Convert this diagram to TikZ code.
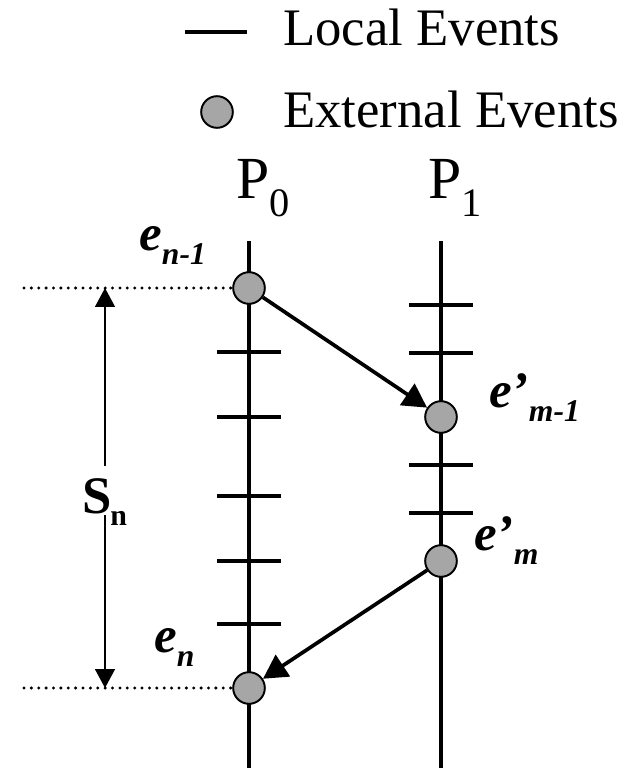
\documentclass[tikz,border=0pt]{standalone}
\usepackage{fontspec}
\setmainfont{Liberation Serif}
\usetikzlibrary{arrows.meta, positioning}
\definecolor{evgray}{RGB}{166,166,166}
\newcommand{\evlab}[2]{\textbf{\textit{#1}}\raisebox{-8.5pt}{\fontsize{18}{18}\selectfont\textbf{\textit{#2}}}}

\begin{document}
\begin{tikzpicture}[
    x=0.02cm, y=-0.02cm,
    >={Triangle[length=13.6pt, width=14.5pt]},
    proc/.style={line width=2.3pt},
    tickmark/.style={line width=2.3pt},
    event/.style={circle, draw, line width=1.1pt, fill=evgray, minimum size=18pt, inner sep=0pt},
    msg/.style={->, line width=2.1pt},
    dotline/.style={line width=1.9pt, line cap=round, dash pattern=on 0pt off 4.2pt},
    span/.style={{Triangle[length=10.8pt, width=11.3pt]}-{Triangle[length=10.8pt, width=11.3pt]}, line width=1.1pt},
    legtext/.style={font=\fontsize{30}{30}\selectfont, anchor=base west, inner sep=0pt},
    evtext/.style={font=\fontsize{29}{29}\selectfont, anchor=base west, inner sep=0pt},
]
\useasboundingbox (0,0) rectangle (630,768);
% legend
\draw[tickmark] (185,32) -- (247,32);
\node[legtext] (leglocal) at (283,45) {Local Events};
\node[event] (legext) at (217,112) {};
\node[legtext] (legexternal) at (283,127) {External Events};
% process names
\node[anchor=base west, inner sep=0pt, font=\fontsize{34}{34}\selectfont] (p0) at (236,198)
   {P\raisebox{-10.5pt}{\fontsize{23}{23}\selectfont 0}};
\node[anchor=base west, inner sep=0pt, font=\fontsize{34}{34}\selectfont] (p1) at (428,198)
   {P\raisebox{-10.5pt}{\fontsize{23}{23}\selectfont 1}};
% process lines
\coordinate (p0top) at (249,241);
\coordinate (p0bot) at (249,768);
\coordinate (p1top) at (441,241);
\coordinate (p1bot) at (441,768);
\draw[proc] (p0top) -- (p0bot);
\draw[proc] (p1top) -- (p1bot);
% local events
\foreach \y in {352,417,496,561,624} {
   \draw[tickmark] (217,\y) -- (281,\y);
}
\foreach \y in {305,353,465,513} {
   \draw[tickmark] (409,\y) -- (473,\y);
}
% external events
\node[event] (en1) at (249,288) {};
\node[event] (em1) at (441,417) {};
\node[event] (em) at (441,561) {};
\node[event] (en) at (249,688) {};
\node[evtext] (len1) at (139,250) {\evlab{e}{n-1}};
\node[evtext] (lem1) at (489,407) {\evlab{e’}{m-1}};
\node[evtext] (lem) at (474,550) {\evlab{e’}{m}};
\node[evtext] (len) at (154,652) {\evlab{e}{n}};
% messages
\draw[msg] (en1) -- (em1);
\draw[msg] (em) -- (en);
% interval S_n
\coordinate (dotA) at (24,288);
\coordinate (dotB) at (24,688);
\draw[dotline] (dotA) -- (en1);
\draw[dotline] (dotB) -- (en);
\coordinate (snTop) at (105,288);
\coordinate (snBot) at (105,688);
\draw[span] (snTop) -- (snBot);
\node[anchor=base west, fill=white, inner sep=1pt, text height=26pt, text depth=0pt,
   font=\fontsize{30}{30}\selectfont\bfseries] (sn) at (80,513) {S};
\node[anchor=base west, inner sep=0pt, font=\fontsize{17}{17}\selectfont\bfseries] (snsub) at (110,525) {n};
\end{tikzpicture}
\end{document}
